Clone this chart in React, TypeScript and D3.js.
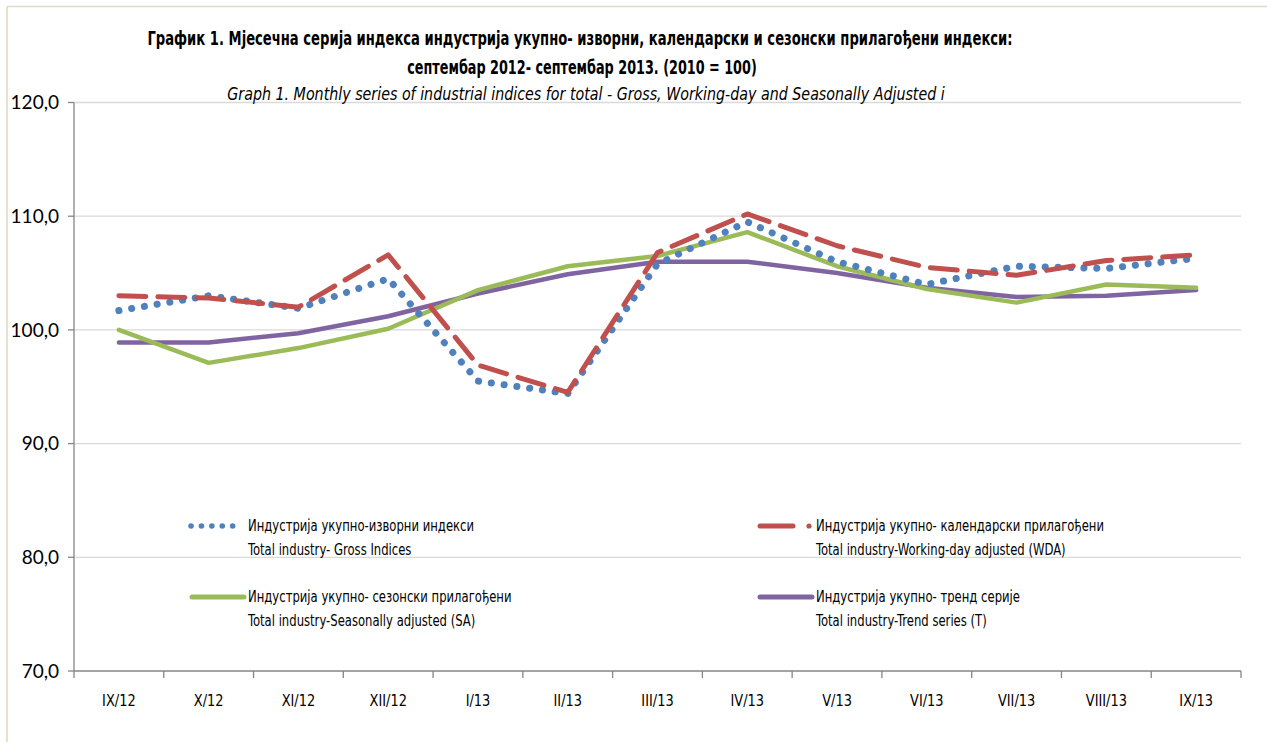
import React, { useLayoutEffect, useRef } from "react";
import * as d3 from "d3";

const categories = ["IX/12", "X/12", "XI/12", "XII/12", "I/13", "II/13", "III/13", "IV/13", "V/13", "VI/13", "VII/13", "VIII/13", "IX/13"];
const grossValues = [101.7, 103.0, 101.9, 104.5, 95.5, 94.4, 105.8, 109.5, 106.0, 104.0, 105.6, 105.4, 106.3];
const wdaValues = [103.0, 102.8, 102.0, 106.6, 96.9, 94.5, 106.8, 110.2, 107.4, 105.5, 104.8, 106.1, 106.6];
const saValues = [100.0, 97.1, 98.4, 100.1, 103.5, 105.6, 106.5, 108.6, 105.6, 103.6, 102.4, 104.0, 103.7];
const trendValues = [98.9, 98.9, 99.7, 101.2, 103.2, 104.9, 106.0, 106.0, 105.0, 103.7, 102.9, 103.0, 103.5];
const yTicks = [70, 80, 90, 100, 110, 120];

const titleLine1 = "График 1. Мјесечна серија  индекса индустрија укупно- изворни,  календарски и сезонски прилагођени индекси:";
const titleLine2 = "септембар 2012- септембар 2013. (2010 = 100)";
const titleLine3 = "Graph 1. Monthly series of industrial indices for total - Gross, Working-day and Seasonally Adjusted i";

const legendItems = [
  { key: "gross", l1: "Индустрија укупно-изворни индекси", l2: "Total industry- Gross Indices" },
  { key: "wda", l1: "Индустрија укупно- календарски прилагођени", l2: "Total industry-Working-day adjusted (WDA)" },
  { key: "sa", l1: "Индустрија укупно- сезонски прилагођени", l2: "Total industry-Seasonally adjusted (SA)" },
  { key: "trend", l1: "Индустрија укупно- тренд серије", l2: "Total industry-Trend series (T)" },
];

const narrow = "'Liberation Sans Narrow', 'DejaVu Sans Condensed', 'Roboto Condensed', sans-serif";

function FitText(props: { cx: number; y: number; width: number; children: string; [k: string]: any }) {
  const { cx, y, width, children, ...rest } = props;
  const ref = useRef<SVGTextElement>(null);
  useLayoutEffect(() => {
    const el = ref.current;
    if (!el) return;
    el.setAttribute("transform", `translate(${cx},${y})`);
    const w = el.getComputedTextLength();
    const k = w > 0 ? width / w : 1;
    el.setAttribute("transform", `translate(${cx},${y}) scale(${k},1)`);
  }, [cx, y, width, children]);
  return (
    <text ref={ref} transform={`translate(${cx},${y})`} textAnchor="middle" dy="0.35em" {...rest}>{children}</text>
  );
}

export default function App() {
  const W = 1267, H = 742;
  const left = 74, right = 1241, top = 102.5, bottom = 671;
  const x = d3.scaleBand<string>().domain(categories).range([left, right]);
  const y = d3.scaleLinear().domain([70, 120]).range([bottom, top]);
  const cx = (c: string) => (x(c) as number) + x.bandwidth() / 2;
  const line = d3.line<number>().x((_, i) => cx(categories[i])).y((v) => y(v));

  const styles: Record<string, any> = {
    gross: { stroke: "#4F81BD", width: 7, dash: "0.1 12.8", cap: "round" },
    wda: { stroke: "#C0504D", width: 5, dash: "27 12", cap: "round" },
    sa: { stroke: "#9BBB59", width: 4.5, dash: null, cap: "round" },
    trend: { stroke: "#8064A2", width: 4.5, dash: null, cap: "round" },
  };
  const series: [string, number[]][] = [["trend", trendValues], ["sa", saValues], ["gross", grossValues], ["wda", wdaValues]];
  const legendPos: Record<string, [number, number]> = {
    gross: [190, 526], wda: [758, 526], sa: [190, 597], trend: [758, 597],
  };

  return (
    <svg width={W} height={H} style={{ position: "absolute", left: 0, top: 0, background: "#fff" }}>
      <rect x={0} y={0} width={W} height={H} fill="#fff" />
      <line x1={7} y1={6.5} x2={W} y2={6.5} stroke="#DDD9C3" strokeWidth={1.5} />
      <line x1={7} y1={6.5} x2={7} y2={H} stroke="#DDD9C3" strokeWidth={1.5} />
      {yTicks.filter((t) => t > 70).map((t) => (
        <line key={t} x1={left} x2={right} y1={y(t)} y2={y(t)} stroke="#D9D9D9" strokeWidth={1.3} />
      ))}
      <line x1={left} x2={left} y1={top} y2={bottom} stroke="#868686" strokeWidth={1.3} />
      <line x1={left} x2={right} y1={bottom} y2={bottom} stroke="#868686" strokeWidth={1.3} />
      {yTicks.map((t) => (
        <g key={t}>
          <line x1={left - 6} x2={left} y1={y(t)} y2={y(t)} stroke="#868686" strokeWidth={1.3} />
          <text x={59} y={y(t)} dy="0.35em" textAnchor="end" fontFamily="Lato, 'Open Sans', sans-serif" fontSize={19} fill="#000">
            {d3.format(".1f")(t).replace(".", ",")}
          </text>
        </g>
      ))}
      {categories.map((c, i) => (
        <line key={"t" + i} x1={x(c) as number} x2={x(c) as number} y1={bottom} y2={bottom + 7} stroke="#868686" strokeWidth={1.3} />
      ))}
      <line x1={right} x2={right} y1={bottom} y2={bottom + 7} stroke="#868686" strokeWidth={1.3} />
      {categories.map((c) => (
        <text key={c} transform={`translate(${cx(c)},700) scale(0.9,1)`} dy="0.35em" textAnchor="middle" fontFamily={narrow} fontSize={16} fill="#000">{c}</text>
      ))}
      {series.map(([k, vals]) => {
        const s = styles[k];
        return (
          <path key={k} d={line(vals) as string} fill="none" stroke={s.stroke} strokeWidth={s.width}
            strokeDasharray={s.dash || undefined} strokeLinecap={s.cap} strokeLinejoin="round" />
        );
      })}
      {legendItems.map((it) => {
        const [lx, ly] = legendPos[it.key];
        const s = styles[it.key];
        let sym;
        if (it.key === "gross") {
          sym = <line x1={lx + 1} x2={lx + 53} y1={ly} y2={ly} stroke={s.stroke} strokeWidth={5.5} strokeDasharray="0.1 10.3" strokeLinecap="round" />;
        } else if (it.key === "wda") {
          sym = (
            <g>
              <line x1={lx + 2} x2={lx + 35} y1={ly} y2={ly} stroke={s.stroke} strokeWidth={5} strokeLinecap="round" />
              <circle cx={lx + 51} cy={ly} r={2.6} fill={s.stroke} />
            </g>
          );
        } else {
          sym = <line x1={lx + 2} x2={lx + 54} y1={ly} y2={ly} stroke={s.stroke} strokeWidth={5} strokeLinecap="round" />;
        }
        return (
          <g key={it.key}>
            {sym}
            <text transform={`translate(${lx + 58},${ly}) scale(0.835,1)`} dy="0.35em" fontFamily={narrow} fontSize={15.5} fill="#000">{it.l1}</text>
            <text transform={`translate(${lx + 58},${ly + 24}) scale(0.835,1)`} dy="0.35em" fontFamily={narrow} fontSize={15.5} fill="#000">{it.l2}</text>
          </g>
        );
      })}
      <FitText cx={580} y={38} width={866} fontFamily={narrow} fontWeight="bold" fontSize={19} fill="#000">{titleLine1}</FitText>
      <FitText cx={582} y={67} width={350} fontFamily={narrow} fontWeight="bold" fontSize={19} fill="#000">{titleLine2}</FitText>
      <FitText cx={586} y={94} width={718} fontFamily={narrow} fontStyle="italic" fontSize={17} fill="#000">{titleLine3}</FitText>
    </svg>
  );
}
